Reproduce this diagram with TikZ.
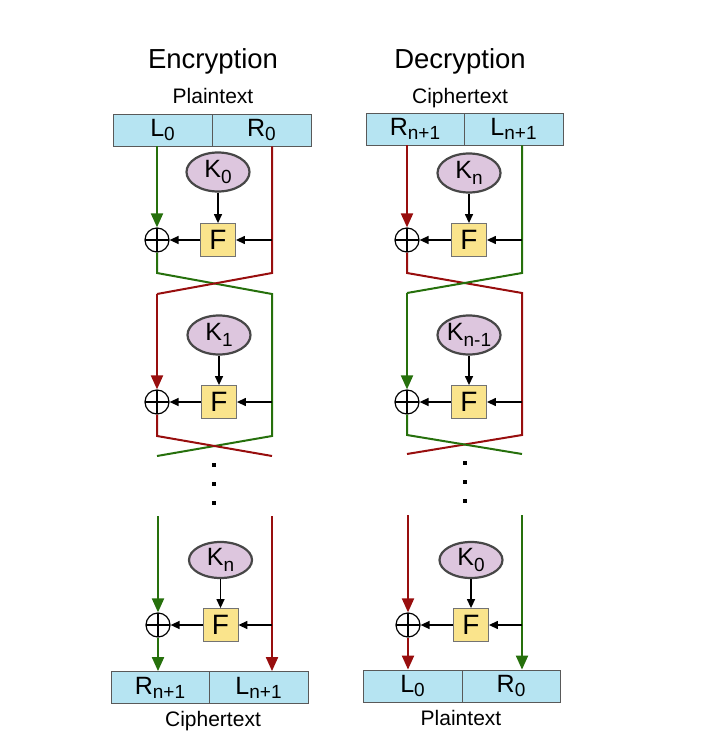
\documentclass[tikz,border=0pt]{standalone}
\usepackage{fontspec}
\setmainfont{Liberation Sans}
\usetikzlibrary{shapes.geometric,arrows.meta}
\definecolor{cgreen}{RGB}{38,112,12}
\definecolor{cred}{RGB}{152,14,14}
\definecolor{boxblue}{RGB}{182,228,242}
\definecolor{keyfill}{RGB}{221,198,222}
\definecolor{ffill}{RGB}{250,228,140}
\newcommand\sbt[1]{\raisebox{-4pt}{\fontsize{19}{19}\selectfont #1}}
\newcommand\sbk[1]{\raisebox{-6pt}{\fontsize{19}{19}\selectfont #1}}
\begin{document}
\begin{tikzpicture}[x=1pt,y=-1pt,
 half/.style={draw=black!65, fill=boxblue, line width=0.8pt, minimum height=32pt, inner sep=0pt, font=\fontsize{25}{25}\selectfont},
 keynode/.style={ellipse, draw=black!72, line width=2.2pt, fill=keyfill, minimum width=63pt, minimum height=39pt, inner sep=0pt, font=\fontsize{25}{25}\selectfont},
 fbox/.style={draw=black!55, fill=ffill, line width=0.8pt, minimum width=35pt, minimum height=33pt, inner sep=0pt, font=\fontsize{28}{28}\selectfont},
 xor/.style={circle, draw=black, line width=1.2pt, minimum size=24pt, inner sep=0pt,
   path picture={\draw[line width=1.2pt] (path picture bounding box.north) -- (path picture bounding box.south) (path picture bounding box.west) -- (path picture bounding box.east);}},
 gline/.style={draw=cgreen, line width=2pt},
 rline/.style={draw=cred, line width=2pt},
 bigtip/.style={-{Triangle[length=14pt,width=12pt]}},
 blk/.style={draw=black, line width=1.3pt, -{Triangle[length=9pt,width=8pt]}},
 title/.style={font=\fontsize{27.5}{27.5}\selectfont, anchor=base},
 caption/.style={font=\fontsize{21}{21}\selectfont, anchor=base},
 dotn/.style={fill=black, minimum size=4pt, inner sep=0pt}
]
\useasboundingbox (0,0) rectangle (720,746);

% ================= Encryption =================
\node[title] (etitle) at (213,69) {Encryption};
\node[caption] (ecap1) at (213,104) {Plaintext};
\node[half, minimum width=99pt, text width=99pt, align=center] (eL0) at (162.5,130) {L\sbt{0}\hspace*{10pt}};
\node[half, minimum width=99pt] (eR0) at (261.5,130) {R\sbt{0}};

\node[keynode] (ek1) at (218,172) {K\sbk{0}};
\node[fbox] (ef1) at (218,240) {F};
\node[xor] (ex1) at (157,240) {};

\node[keynode] (ek2) at (219,335) {K\sbk{1}};
\node[fbox] (ef2) at (219,402) {F};
\node[xor] (ex2) at (157,402) {};

\node[dotn] (ed1) at (214,465) {};
\node[dotn] (ed2) at (214,484) {};
\node[dotn] (ed3) at (214,503) {};

\node[keynode, minimum height=36pt] (ek3) at (220.5,560) {K\sbk{n}};
\node[fbox] (ef3) at (220.5,625) {F};
\node[xor] (ex3) at (158,625) {};

\node[half, minimum width=98pt] (eRn) at (160,687.5) {R\sbt{n+1}};
\node[half, minimum width=99pt] (eLn) at (258.5,687.5) {L\sbt{n+1}};
\node[caption] (ecap2) at (213,726) {Ciphertext};

\coordinate (eA1) at (157,273);
\coordinate (eB1) at (272,294);
\coordinate (eC1) at (272,273);
\coordinate (eD1) at (157,294);
\coordinate (eA2) at (157,436);
\coordinate (eB2) at (272,456);
\coordinate (eC2) at (272,436);
\coordinate (eD2) at (157,456);
\coordinate (eG3) at (158,516);
\coordinate (eR3) at (272,516);

\draw[gline, bigtip] (eL0.south -| ex1) -- (ex1.north);
\draw[gline] (ex1.south) -- (eA1) -- (eB1) -- (eC2) -- (eD2);
\draw[rline] (eR0.south -| eC1) -- (eC1) -- (eD1);
\draw[rline, bigtip] (eD1) -- (ex2.north);
\draw[rline] (ex2.south) -- (eA2) -- (eB2);
\draw[gline, bigtip] (eG3) -- (ex3.north);
\draw[gline, bigtip] (ex3.south) -- (eRn.north -| ex3);
\draw[rline, bigtip] (eR3) -- (eLn.north -| eR3);

\draw[blk] (ek1.south) -- (ef1.north);
\draw[blk] (ef1.east -| eC1) -- (ef1.east);
\draw[blk] (ef1.west) -- (ex1.east);
\draw[blk] (ek2.south) -- (ef2.north);
\draw[blk] (ef2.east -| eC2) -- (ef2.east);
\draw[blk] (ef2.west) -- (ex2.east);
\draw[blk] (ek3.south) -- (ef3.north);
\draw[blk] (ef3.east -| eR3) -- (ef3.east);
\draw[blk] (ef3.west) -- (ex3.east);

% ================= Decryption =================
\node[title] (dtitle) at (460,69) {Decryption};
\node[caption] (dcap1) at (460,104) {Ciphertext};
\node[half, minimum width=98pt] (dRn) at (415,129) {R\sbt{n+1}};
\node[half, minimum width=99pt] (dLn) at (513.5,129) {L\sbt{n+1}};

\node[keynode] (dk1) at (469,173) {K\sbk{n}};
\node[fbox] (df1) at (469,240) {F};
\node[xor] (dx1) at (407,240) {};

\node[keynode] (dk2) at (469,335) {K\sbk{n-1}};
\node[fbox] (df2) at (469,402) {F};
\node[xor] (dx2) at (407,402) {};

\node[dotn] (dd1) at (465,463) {};
\node[dotn] (dd2) at (465,482) {};
\node[dotn] (dd3) at (465,501) {};

\node[keynode, minimum height=36pt] (dk3) at (471,560) {K\sbk{0}};
\node[fbox] (df3) at (471,625) {F};
\node[xor] (dx3) at (408,625) {};

\node[half, minimum width=99pt, text width=99pt, align=center] (dL0) at (412.5,686) {L\sbt{0}\hspace*{10pt}};
\node[half, minimum width=98pt] (dR0) at (511,686) {R\sbt{0}};
\node[caption] (dcap2) at (461,725) {Plaintext};

\coordinate (dA1) at (407,273);
\coordinate (dB1) at (522,293);
\coordinate (dC1) at (522,273);
\coordinate (dD1) at (407,293);
\coordinate (dA2) at (407,435);
\coordinate (dB2) at (522,454);
\coordinate (dC2) at (522,435);
\coordinate (dD2) at (407,454);
\coordinate (dG3) at (408,515);
\coordinate (dR3) at (522,515);

\draw[rline, bigtip] (dRn.south -| dx1) -- (dx1.north);
\draw[rline] (dx1.south) -- (dA1) -- (dB1) -- (dC2) -- (dD2);
\draw[gline] (dLn.south -| dC1) -- (dC1) -- (dD1);
\draw[gline, bigtip] (dD1) -- (dx2.north);
\draw[gline] (dx2.south) -- (dA2) -- (dB2);
\draw[rline, bigtip] (dG3) -- (dx3.north);
\draw[rline, bigtip] (dx3.south) -- (dL0.north -| dx3);
\draw[gline, bigtip] (dR3) -- (dR0.north -| dR3);

\draw[blk] (dk1.south) -- (df1.north);
\draw[blk] (df1.east -| dC1) -- (df1.east);
\draw[blk] (df1.west) -- (dx1.east);
\draw[blk] (dk2.south) -- (df2.north);
\draw[blk] (df2.east -| dC2) -- (df2.east);
\draw[blk] (df2.west) -- (dx2.east);
\draw[blk] (dk3.south) -- (df3.north);
\draw[blk] (df3.east -| dR3) -- (df3.east);
\draw[blk] (df3.west) -- (dx3.east);
\end{tikzpicture}
\end{document}
